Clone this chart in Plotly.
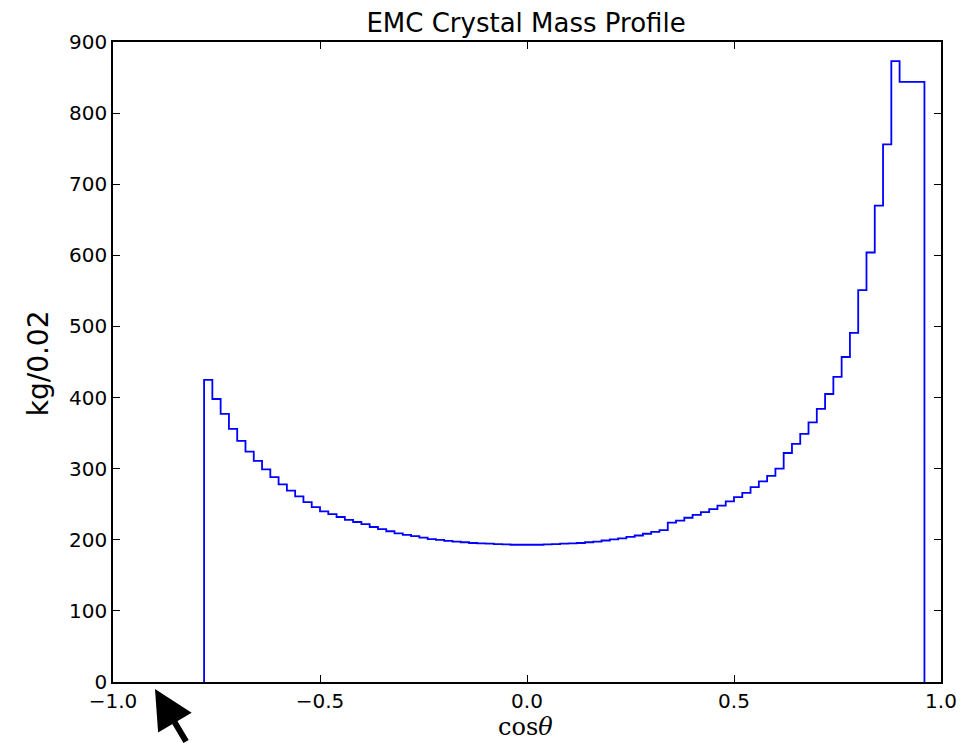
import numpy as np
import plotly.graph_objects as go

# Histogram data: bins of width 0.02 starting at cos(theta) = -0.78
bin_start = -0.78
bin_width = 0.02
mass_kg = [
    425, 398, 377, 356, 339, 324, 311, 299, 288, 278,
    269, 261, 253, 246, 240, 236, 232, 228, 225, 222,
    218, 215, 212, 209, 207, 205, 203, 201, 200, 198.5,
    197.5, 196.5, 195.5, 195, 194.5, 194, 193.5, 193, 193, 193,
    193, 193.5, 194, 194.5, 195, 195.5, 196.5, 197.5, 199, 200.5,
    202, 204, 206, 208.5, 211, 213.5, 224, 227, 231, 235,
    239, 243, 248, 254, 260, 266, 274, 282, 290, 300,
    322, 335, 349, 365, 384, 405, 429, 457, 491, 551,
    604, 670, 756, 873, 844, 844, 844,
]
x_tickvals = [-1.0, -0.5, 0.0, 0.5, 1.0]
x_ticktext = ["\u22121.0", "\u22120.5", "0.0", "0.5", "1.0"]
y_tickvals = [0, 100, 200, 300, 400, 500, 600, 700, 800, 900]

edges = np.round(bin_start + bin_width * np.arange(len(mass_kg) + 1), 4).tolist()
xs = [edges[0]] + edges[:-1] + [edges[-1], edges[-1]]
ys = [0] + mass_kg + [mass_kg[-1], 0]

fig = go.Figure()
fig.add_trace(go.Scatter(
    x=xs, y=ys, mode="lines", line=dict(color="#0000ff", width=1.8, shape="hv"),
    showlegend=False, hoverinfo="skip",
))

axis_common = dict(
    showgrid=False, zeroline=False, showline=True, linecolor="black", linewidth=1.5,
    mirror="ticks", ticks="inside", ticklen=7, tickwidth=1.2, tickcolor="black",
    tickfont=dict(family="DejaVu Sans", size=20, color="black"), automargin=False,
)

fig.update_layout(
    width=976, height=743,
    margin=dict(l=113, r=35, t=42, b=61),
    paper_bgcolor="white", plot_bgcolor="white",
    title=dict(text="EMC Crystal Mass Profile", x=0.539, xanchor="center", y=0.969, yanchor="middle",
               font=dict(family="DejaVu Sans", size=26, color="black")),
    xaxis=dict(range=[-1.0, 1.0], tickvals=x_tickvals, ticktext=x_ticktext, **axis_common),
    yaxis=dict(range=[0, 900], tickvals=y_tickvals, **axis_common),
)

# Axis titles
fig.add_annotation(
    x=0.4976, y=-0.070, xref="paper", yref="paper", text="cos<i>θ</i>", showarrow=False,
    xanchor="center", yanchor="middle",
    font=dict(family="DejaVu Serif", size=24, color="black"),
)
fig.add_annotation(
    x=-0.0906, y=0.498, xref="paper", yref="paper", text="kg/0.02", showarrow=False,
    xanchor="center", yanchor="middle", textangle=-90,
    font=dict(family="DejaVu Sans", size=28, color="black"),
)

# Arrow at bottom left
fig.add_annotation(
    x=0.0507, y=-0.011, xref="paper", yref="paper", text="", showarrow=True,
    arrowhead=2, arrowsize=1.3, arrowwidth=6, arrowcolor="black",
    ax=32, ay=75,
)

fig.write_html("out.html")
